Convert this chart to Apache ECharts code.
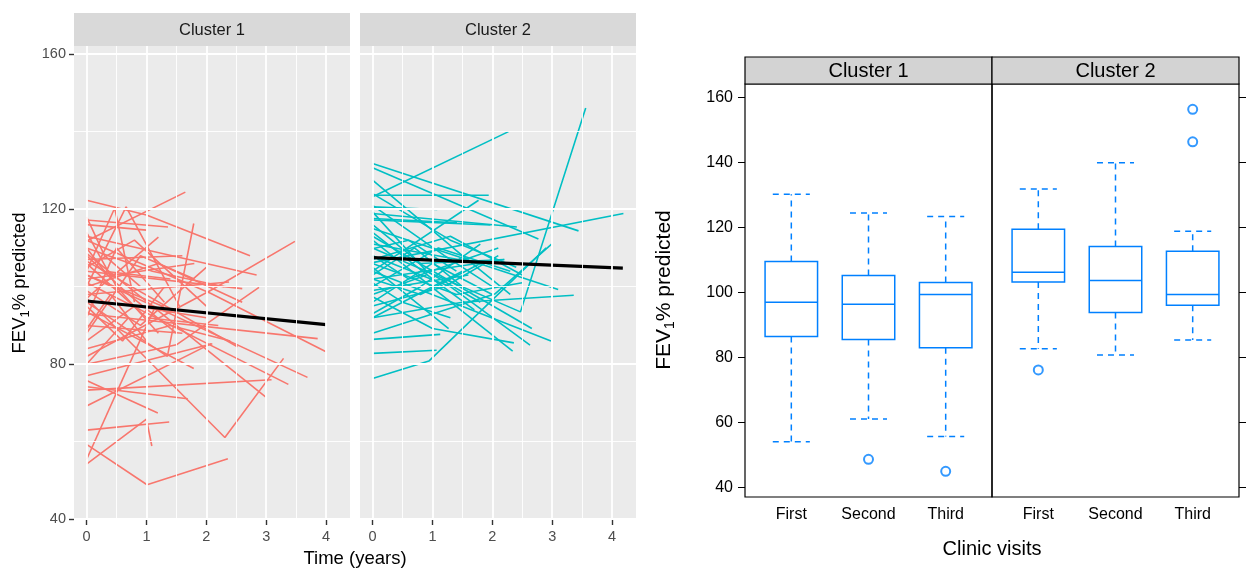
<!DOCTYPE html>
<html><head><meta charset="utf-8">
<script src="https://cdn.jsdelivr.net/npm/echarts@6/dist/echarts.min.js"></script>
<style>html,body{margin:0;padding:0;background:#fff}#c{width:1246px;height:570px}</style>
</head><body><div id="c"></div><script>
// ---------- data ----------
const panelNames = ['Cluster 1', 'Cluster 2'];
const timeTicks = [0, 1, 2, 3, 4];
const timeMinor = [0.5, 1.5, 2.5, 3.5];
const fevTicksLeft = [40, 80, 120, 160];
const fevMinorLeft = [60, 100, 140];
const fevTicksRight = [40, 60, 80, 100, 120, 140, 160];
const visitNames = ['First', 'Second', 'Third'];

// each subject: [time (years), FEV1 % predicted] per clinic visit
const cluster1Subjects = [
  [[0,122.3],[1.0,118.5],[2.73,108]],
  [[0,111.8],[1.65,124.4]],
  [[0,82],[2.07,99],[3.48,111.7]],
  [[0,59.3],[1.01,48.9],[2.36,55.6]],
  [[0,54.2],[1.0,65.8],[1.09,58.9]],
  [[0,63],[1.38,65.1]],
  [[0,97],[2.31,61.1],[3.29,81.5]],
  [[0,55.4],[1.15,95]],
  [[0,69.2],[2.08,85.3]],
  [[0,73.3],[3.09,76]],
  [[0,74.2],[1.69,71.1]],
  [[0,75.8],[1.19,67.4]],
  [[0,112],[2.07,98.3],[4.0,83.2]],
  [[0,93],[3.86,86.6]],
  [[0,103],[3.69,76.6]],
  [[0,101],[3.37,74.8]],
  [[0,108.6],[2.99,71.6]],
  [[0,80],[1.5,85],[2.88,99.8]],
  [[0,106.6],[2.52,84.5]],
  [[0,93.5],[1.79,78.9]],
  [[0,103],[1.29,94.8]],
  [[0,77],[2.1,85.3]],
  [[0,113],[2.84,103]],
  [[0,104],[2.6,99.5]],
  [[0,98],[2.38,101.2]],
  [[0,117.2],[1.36,115.4]],
  [[0,116],[1.0,114.6]],
  [[0,96],[1.35,82],[1.79,116.3]],
  [[0,100],[0.66,120.6],[1.55,95]],
  [[0,104],[0.47,120.3],[0.8,96]],
  [[0,97],[1.2,112.8]],
  [[0,110],[1.1,104],[2.3,100]],
  [[0,108],[0.7,98],[1.5,88]],
  [[0,88],[0.9,108],[1.8,102]],
  [[0,92],[0.5,110],[1.3,96]],
  [[0,106],[1.0,92],[2.2,90]],
  [[0,100],[1.2,106],[2.6,96]],
  [[0,86],[0.8,95],[2.0,92]],
  [[0,110],[0.3,104],[1.4,102]],
  [[0,90],[1.6,88]],
  [[0,95],[0.6,86],[1.3,100]],
  [[0,114],[0.5,100],[1.2,88]],
  [[0,102],[1.8,106]],
  [[0,84],[1.4,90],[2.4,86]],
  [[0,99],[0.9,90],[2.0,105]],
  [[0,107],[1.6,108]],
  [[0,89],[0.4,98],[1.0,86]],
  [[0,118],[0.3,108],[0.9,100]],
  [[0,80],[0.7,92]],
  [[0,105],[0.8,112],[2.0,95]]
];
const cluster2Subjects = [
  [[0,110],[2.47,93.5],[3.56,146.1]],
  [[0,123.2],[2.27,140]],
  [[0,131.8],[3.44,114.4]],
  [[0,130.7],[2.77,112.3]],
  [[0,127.5],[1.5,108],[2.3,98]],
  [[0,123.6],[1.94,123.6]],
  [[0,106.2],[4.19,118.9]],
  [[0,88],[2.05,98.2],[2.99,111]],
  [[0,76.3],[0.94,80.8],[2.9,110]],
  [[0,82.8],[1.07,83.6]],
  [[0,86.4],[1.13,87.7]],
  [[0,92],[1.5,104]],
  [[0,97.4],[1.0,89.2],[2.36,85.5]],
  [[0,112],[2.34,83.4]],
  [[0,108],[1.3,100],[2.63,84.9]],
  [[0,104],[2.98,86]],
  [[0,113],[2.66,89.2]],
  [[0,92],[1.5,96],[3.36,97.8]],
  [[0,115],[3.1,99.3]],
  [[0,105],[1.27,89.2]],
  [[0,117.6],[1.41,116.5]],
  [[0,104],[1.77,122.3]],
  [[0,120.6],[1.08,119.9]],
  [[0,118.9],[2.41,115.4]],
  [[0,117.2],[1.97,115.9]],
  [[0,121],[1.2,108],[2.0,100]],
  [[0,119.3],[0.9,104],[1.8,96]],
  [[0,109.8],[0.6,112],[1.4,104]],
  [[0,100],[1.1,110],[2.3,104]],
  [[0,96],[1.0,106],[2.0,98]],
  [[0,102],[0.8,98],[1.8,106]],
  [[0,107],[1.3,113],[2.5,103]],
  [[0,99],[1.6,103]],
  [[0,114],[1.0,102],[1.7,94]],
  [[0,103],[0.7,110],[1.5,100]],
  [[0,95],[1.2,100],[2.1,108]],
  [[0,111],[1.8,106]],
  [[0,101],[0.5,96],[1.3,92]],
  [[0,116],[0.8,106],[2.2,107]],
  [[0,106],[1.4,98],[2.5,101]],
  [[0,98],[0.9,103]],
  [[0,124],[1.3,112],[2.4,105]],
  [[0,108],[0.6,102],[2.1,110]],
  [[0,102],[2.2,107]],
  [[0,93],[0.8,100],[1.8,111]]
];
const cluster1Fit = [[0,96.3],[4,90.2]];
const cluster2Fit = [[0,107.5],[4.18,104.8]];

// box stats per visit: [lower whisker, Q1, median, Q3, upper whisker]
const cluster1Box = [[54.0,86.4,96.9,109.5,130.2],[61.0,85.5,96.3,105.2,124.4],[55.6,82.9,99.3,103.0,123.3]];
const cluster2Box = [[82.6,103.2,106.2,119.4,131.8],[80.7,93.8,103.6,114.1,139.9],[85.3,96.0,99.3,112.6,118.8]];
const cluster1Outliers = [[2,48.6],[3,44.9]];
const cluster2Outliers = [[1,76.1],[3,146.3],[3,156.3]];

// ---------- chart ----------
const FONT = 'Liberation Sans, Arial, Helvetica, sans-serif';
const RED = '#F8766D', CYAN = '#00BFC4', BLUE = '#0080FF';
const chart = echarts.init(document.getElementById('c'), null, {renderer: 'canvas'});

function ggGridSeries(idx) {
  const lines = [];
  timeTicks.forEach(v => lines.push({xAxis: v, lineStyle: {color: '#fff', width: 1.8, type: 'solid'}}));
  timeMinor.forEach(v => lines.push({xAxis: v, lineStyle: {color: '#fff', width: 0.9, type: 'solid'}}));
  fevTicksLeft.forEach(v => lines.push({yAxis: v, lineStyle: {color: '#fff', width: 1.8, type: 'solid'}}));
  fevMinorLeft.forEach(v => lines.push({yAxis: v, lineStyle: {color: '#fff', width: 0.9, type: 'solid'}}));
  return {
    type: 'line', xAxisIndex: idx, yAxisIndex: idx, data: [], silent: true, z: 1, animation: false,
    markLine: {silent: true, symbol: ['none', 'none'], label: {show: false}, animation: false, data: lines}
  };
}
function subjectSeries(list, idx, color) {
  return list.map(pts => ({
    type: 'line', xAxisIndex: idx, yAxisIndex: idx, data: pts, showSymbol: false, silent: true,
    animation: false, z: 3, lineStyle: {color: color, width: 1.6}
  }));
}
function fitSeries(pts, idx) {
  return {type: 'line', xAxisIndex: idx, yAxisIndex: idx, data: pts, showSymbol: false, silent: true,
    animation: false, z: 4, lineStyle: {color: '#000', width: 3.2}};
}
function renderBox(params, api) {
  const x = api.value(0), lo = api.value(1), q1 = api.value(2), md = api.value(3), q3 = api.value(4), hi = api.value(5);
  const bw = 0.34, cw = 0.24;
  const tl = api.coord([x - bw, q3]), br = api.coord([x + bw, q1]);
  const mL = api.coord([x - bw, md]), mR = api.coord([x + bw, md]);
  const top = api.coord([x, hi]), q3c = api.coord([x, q3]), q1c = api.coord([x, q1]), bot = api.coord([x, lo]);
  const cTL = api.coord([x - cw, hi]), cTR = api.coord([x + cw, hi]);
  const cBL = api.coord([x - cw, lo]), cBR = api.coord([x + cw, lo]);
  const solid = {stroke: BLUE, lineWidth: 1.5, fill: null};
  const dashed = {stroke: BLUE, lineWidth: 1.5, lineDash: [6, 5], fill: null};
  return {type: 'group', children: [
    {type: 'rect', shape: {x: tl[0], y: tl[1], width: br[0] - tl[0], height: br[1] - tl[1]}, style: solid},
    {type: 'line', shape: {x1: mL[0], y1: mL[1], x2: mR[0], y2: mR[1]}, style: solid},
    {type: 'line', shape: {x1: q3c[0], y1: q3c[1], x2: top[0], y2: top[1]}, style: dashed},
    {type: 'line', shape: {x1: q1c[0], y1: q1c[1], x2: bot[0], y2: bot[1]}, style: dashed},
    {type: 'line', shape: {x1: cTL[0], y1: cTL[1], x2: cTR[0], y2: cTR[1]}, style: dashed},
    {type: 'line', shape: {x1: cBL[0], y1: cBL[1], x2: cBR[0], y2: cBR[1]}, style: dashed}
  ]};
}
function boxSeries(stats, idx) {
  return {type: 'custom', xAxisIndex: idx, yAxisIndex: idx, silent: true, animation: false, z: 3,
    renderItem: renderBox, data: stats.map((s, i) => [i + 1].concat(s)), clip: false};
}
function outlierSeries(pts, idx) {
  return {type: 'scatter', xAxisIndex: idx, yAxisIndex: idx, data: pts, symbol: 'emptyCircle', symbolSize: 9,
    silent: true, animation: false, z: 4, itemStyle: {color: BLUE, borderWidth: 1.5}};
}

const ggX = (g, labels) => ({
  type: 'value', gridIndex: g, min: -0.21, max: 4.4, position: 'bottom',
  axisLine: {show: false, onZero: false}, splitLine: {show: false},
  axisTick: {show: true, customValues: timeTicks, length: 5, lineStyle: {color: '#333', width: 1.4}},
  axisLabel: {show: labels, customValues: timeTicks, color: '#4D4D4D', fontSize: 14.5, fontFamily: FONT, margin: 9}
});
const ggY = (g, labels) => ({
  type: 'value', gridIndex: g, min: 39.8, max: 162.1, position: 'left',
  axisLine: {show: false, onZero: false}, splitLine: {show: false},
  axisTick: {show: labels, customValues: fevTicksLeft, length: 5, lineStyle: {color: '#333', width: 1.4}},
  axisLabel: {show: labels, customValues: fevTicksLeft, color: '#4D4D4D', fontSize: 14.5, fontFamily: FONT, margin: 8}
});
const ltX = (g) => ({
  type: 'value', gridIndex: g, min: 0.4, max: 3.6,
  axisLine: {show: false, onZero: false}, splitLine: {show: false}, axisTick: {show: false},
  axisLabel: {customValues: [1, 2, 3], formatter: v => visitNames[Math.round(v) - 1], color: '#000',
    fontSize: 16, fontFamily: FONT, margin: 10}
});
const ltY = (g, pos, labels) => ({
  type: 'value', gridIndex: g, min: 37.0, max: 164.1, position: pos,
  axisLine: {show: false, onZero: false}, splitLine: {show: false},
  axisTick: {show: true, customValues: fevTicksRight, length: 7, lineStyle: {color: '#000', width: 1}},
  axisLabel: {show: labels, customValues: fevTicksRight, color: '#000', fontSize: 16, fontFamily: FONT, margin: 12}
});

const stripText = (x, y, t, size, color) => ({type: 'text', x: x, y: y, z: 10,
  style: {text: t, fontSize: size, fontFamily: FONT, fill: color, align: 'center', verticalAlign: 'middle'}});
const yTitle = (x, y, size) => ({type: 'text', x: x, y: y, rotation: Math.PI / 2, z: 10,
  style: {text: '{a|FEV}{b|1}{a|% predicted}', align: 'center', verticalAlign: 'middle', fill: '#000',
    rich: {a: {fontSize: size, fontFamily: FONT, fill: '#000', lineHeight: size + 6, verticalAlign: 'middle'},
           b: {fontSize: Math.round(size * 0.68), fontFamily: FONT, fill: '#000', lineHeight: Math.round(size * 0.68), verticalAlign: 'bottom'}}}});

const option = {
  animation: false,
  backgroundColor: '#fff',
  grid: [
    {left: 74, top: 46, width: 276, height: 474, show: true, backgroundColor: '#EBEBEB', borderWidth: 0},
    {left: 360, top: 46, width: 276, height: 474, show: true, backgroundColor: '#EBEBEB', borderWidth: 0},
    {left: 745, top: 84, width: 247, height: 413, show: true, backgroundColor: 'transparent', borderColor: '#000', borderWidth: 1.2},
    {left: 992, top: 84, width: 247, height: 413, show: true, backgroundColor: 'transparent', borderColor: '#000', borderWidth: 1.2}
  ],
  xAxis: [ggX(0, true), ggX(1, true), ltX(2), ltX(3)],
  yAxis: [ggY(0, true), ggY(1, false), ltY(2, 'left', true), ltY(3, 'right', false)],
  series: [
    ggGridSeries(0), ggGridSeries(1),
    ...subjectSeries(cluster1Subjects, 0, RED),
    ...subjectSeries(cluster2Subjects, 1, CYAN),
    fitSeries(cluster1Fit, 0), fitSeries(cluster2Fit, 1),
    boxSeries(cluster1Box, 2), boxSeries(cluster2Box, 3),
    outlierSeries(cluster1Outliers, 2), outlierSeries(cluster2Outliers, 3)
  ],
  graphic: [
    {type: 'rect', shape: {x: 74, y: 13, width: 276, height: 33}, style: {fill: '#D9D9D9'}, z: 5},
    {type: 'rect', shape: {x: 360, y: 13, width: 276, height: 33}, style: {fill: '#D9D9D9'}, z: 5},
    stripText(212, 30, panelNames[0], 16.5, '#1A1A1A'),
    stripText(498, 30, panelNames[1], 16.5, '#1A1A1A'),
    {type: 'text', x: 355, y: 559, z: 10, style: {text: 'Time (years)', fontSize: 18.5, fontFamily: FONT, fill: '#000', align: 'center', verticalAlign: 'middle'}},
    yTitle(20, 283, 18.5),
    {type: 'rect', shape: {x: 745, y: 57, width: 247, height: 27}, style: {fill: '#D3D3D3', stroke: '#000', lineWidth: 1.2}, z: 5},
    {type: 'rect', shape: {x: 992, y: 57, width: 247, height: 27}, style: {fill: '#D3D3D3', stroke: '#000', lineWidth: 1.2}, z: 5},
    stripText(868.5, 71, panelNames[0], 20, '#000'),
    stripText(1115.5, 71, panelNames[1], 20, '#000'),
    {type: 'text', x: 992, y: 549, z: 10, style: {text: 'Clinic visits', fontSize: 20, fontFamily: FONT, fill: '#000', align: 'center', verticalAlign: 'middle'}},
    yTitle(664, 290, 21)
  ]
};
chart.setOption(option);
</script></body></html>
